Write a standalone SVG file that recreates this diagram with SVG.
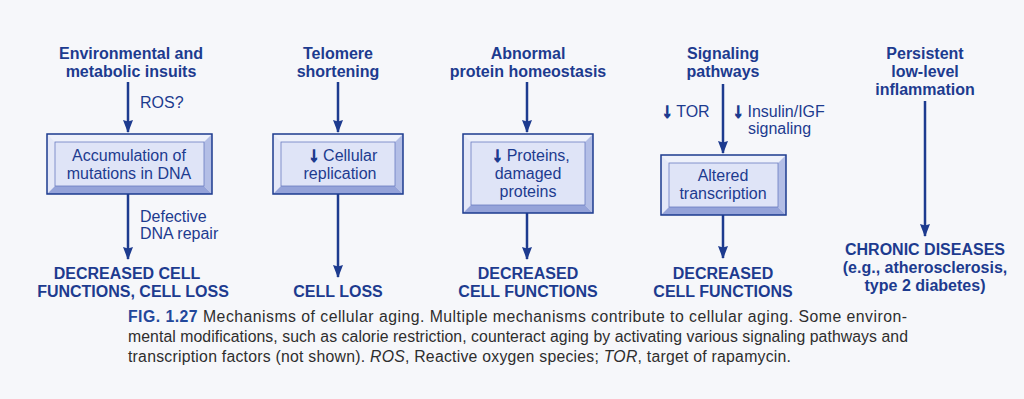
<svg xmlns="http://www.w3.org/2000/svg" width="1024" height="399" viewBox="0 0 1024 399">
<style>
  .t{font-family:"Liberation Sans",Arial,sans-serif;fill:#1d3b8f}
  .b{font-weight:bold;font-size:16px}
  .r{font-size:16px}
  .m{text-anchor:middle}
  .ar{font-weight:bold;font-size:20px;stroke:#1d3b8f;stroke-width:1.5}
  .cap{font-family:"Liberation Sans",Arial,sans-serif;font-size:15.8px;fill:#2e2e2e}
  .fig{font-weight:bold;fill:#22479b}
  .ln{stroke:#1d3b8f;stroke-width:2.5;fill:none;marker-end:url(#ah)}
  .bt{fill:#eef1fb}
  .bl{fill:#e4e8f8}
  .br{fill:#b3bee6}
  .bb{fill:#95a3d9}
  .bi{fill:#dfe4f7;stroke:#6a7cc0;stroke-width:0.8}
  .bo{fill:none;stroke:#1d3b8f;stroke-width:1.5}
</style>
<defs>
  <marker id="ah" markerUnits="userSpaceOnUse" markerWidth="13" markerHeight="12" viewBox="0 0 13 12" refX="12" refY="6" orient="auto">
    <path d="M0,1 L13,6 L0,11 L1.5,6 z" fill="#1d3b8f"/>
  </marker>
</defs>
<rect x="0" y="0" width="1024" height="399" fill="#f6f7fa"/>

<g id="connectors">
  <line class="ln" x1="128" y1="82" x2="128" y2="132"/>
  <line class="ln" x1="128" y1="194" x2="128" y2="259"/>
  <line class="ln" x1="338" y1="82" x2="338" y2="132"/>
  <line class="ln" x1="338" y1="194" x2="338" y2="277"/>
  <line class="ln" x1="527" y1="82" x2="527" y2="132"/>
  <line class="ln" x1="527" y1="213" x2="527" y2="259"/>
  <line class="ln" x1="723" y1="84" x2="723" y2="153"/>
  <line class="ln" x1="723" y1="215" x2="723" y2="258"/>
  <line class="ln" x1="925" y1="101" x2="925" y2="236"/>
</g>

<g id="col1">
  <text class="t b m" x="131" y="59">Environmental and</text>
  <text class="t b m" x="131" y="77">metabolic insuits</text>
  <text class="t r" x="140" y="108">ROS?</text>
</g>
<g id="box1">
  <polygon class="bt" points="47,134 212,134 204,142 55,142"/>
  <polygon class="bl" points="47,134 55,142 55,186 47,194"/>
  <polygon class="br" points="212,134 212,194 204,186 204,142"/>
  <polygon class="bb" points="47,194 55,186 204,186 212,194"/>
  <rect class="bi" x="55" y="142" width="149" height="44"/>
  <rect class="bo" x="47" y="134" width="165" height="60"/>
  <text class="t r m" x="129" y="161">Accumulation of</text>
  <text class="t r m" x="129" y="179">mutations in DNA</text>
</g>
<g id="out1">
  <text class="t r" x="140" y="222">Defective</text>
  <text class="t r" x="140" y="239">DNA repair</text>
  <text class="t b m" x="127" y="279">DECREASED CELL</text>
  <text class="t b m" x="133" y="297">FUNCTIONS, CELL LOSS</text>
</g>

<g id="col2">
  <text class="t b m" x="338" y="59">Telomere</text>
  <text class="t b m" x="338" y="77">shortening</text>
</g>
<g id="box2">
  <polygon class="bt" points="273,134 403,134 395,142 281,142"/>
  <polygon class="bl" points="273,134 281,142 281,186 273,194"/>
  <polygon class="br" points="403,134 403,194 395,186 395,142"/>
  <polygon class="bb" points="273,194 281,186 395,186 403,194"/>
  <rect class="bi" x="281" y="142" width="114" height="44"/>
  <rect class="bo" x="273" y="134" width="130" height="60"/>
  <text class="t r m" x="343" y="161"><tspan class="ar">↓</tspan> Cellular</text>
  <text class="t r m" x="340" y="179">replication</text>
</g>
<g id="out2">
  <text class="t b m" x="338" y="297">CELL LOSS</text>
</g>

<g id="col3">
  <text class="t b m" x="528" y="59">Abnormal</text>
  <text class="t b m" x="528" y="77">protein homeostasis</text>
</g>
<g id="box3">
  <polygon class="bt" points="463,134 593,134 585,142 471,142"/>
  <polygon class="bl" points="463,134 471,142 471,205 463,213"/>
  <polygon class="br" points="593,134 593,213 585,205 585,142"/>
  <polygon class="bb" points="463,213 471,205 585,205 593,213"/>
  <rect class="bi" x="471" y="142" width="114" height="63"/>
  <rect class="bo" x="463" y="134" width="130" height="79"/>
  <text class="t r m" x="531" y="161"><tspan class="ar">↓</tspan> Proteins,</text>
  <text class="t r m" x="528" y="179">damaged</text>
  <text class="t r m" x="528" y="197">proteins</text>
</g>
<g id="out3">
  <text class="t b m" x="528" y="279">DECREASED</text>
  <text class="t b m" x="528" y="297">CELL FUNCTIONS</text>
</g>

<g id="col4">
  <text class="t b m" x="723" y="59">Signaling</text>
  <text class="t b m" x="723" y="77">pathways</text>
  <text class="t r" x="662" y="117"><tspan class="ar">↓</tspan> TOR</text>
  <text class="t r" x="733" y="117"><tspan class="ar">↓</tspan> Insulin/IGF</text>
  <text class="t r" x="748" y="134">signaling</text>
</g>
<g id="box4">
  <polygon class="bt" points="661,155 786,155 778,163 669,163"/>
  <polygon class="bl" points="661,155 669,163 669,207 661,215"/>
  <polygon class="br" points="786,155 786,215 778,207 778,163"/>
  <polygon class="bb" points="661,215 669,207 778,207 786,215"/>
  <rect class="bi" x="669" y="163" width="109" height="44"/>
  <rect class="bo" x="661" y="155" width="125" height="60"/>
  <text class="t r m" x="723" y="181">Altered</text>
  <text class="t r m" x="723" y="199">transcription</text>
</g>
<g id="out4">
  <text class="t b m" x="723" y="279">DECREASED</text>
  <text class="t b m" x="723" y="297">CELL FUNCTIONS</text>
</g>

<g id="col5">
  <text class="t b m" x="925" y="59">Persistent</text>
  <text class="t b m" x="925" y="77">low-level</text>
  <text class="t b m" x="925" y="95">inflammation</text>
</g>
<g id="out5">
  <text class="t b m" x="925" y="255">CHRONIC DISEASES</text>
  <text class="t b m" x="925" y="273">(e.g., atherosclerosis,</text>
  <text class="t b m" x="925" y="291">type 2 diabetes)</text>
</g>

<g id="caption">
  <text class="cap" x="128" y="322" textLength="779" lengthAdjust="spacing"><tspan class="fig">FIG. 1.27</tspan> Mechanisms of cellular aging. Multiple mechanisms contribute to cellular aging. Some environ-</text>
  <text class="cap" x="128" y="342" textLength="780" lengthAdjust="spacing">mental modifications, such as calorie restriction, counteract aging by activating various signaling pathways and</text>
  <text class="cap" x="128" y="362" textLength="663" lengthAdjust="spacing">transcription factors (not shown). <tspan font-style="italic">ROS</tspan>, Reactive oxygen species; <tspan font-style="italic">TOR</tspan>, target of rapamycin.</text>
</g>
</svg>
